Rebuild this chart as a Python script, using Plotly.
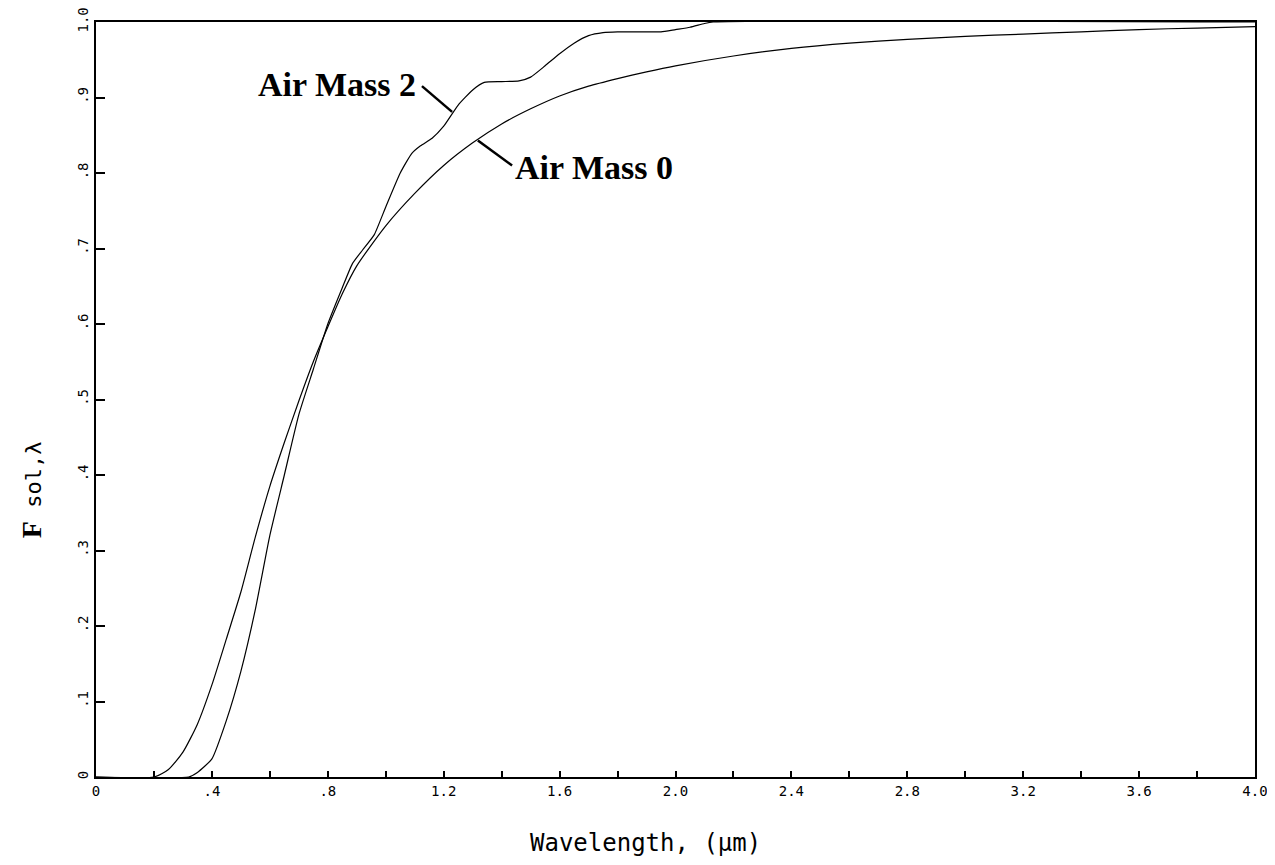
import plotly.graph_objects as go

# Air Mass 0 cumulative solar fraction
am0_wavelength = [0, 0.2, 0.25, 0.3, 0.35, 0.4, 0.45, 0.5, 0.55, 0.6, 0.65, 0.7, 0.75, 0.8,
                  0.85, 0.9, 1.0, 1.1, 1.2, 1.3, 1.4, 1.5, 1.6, 1.7, 1.8, 1.9, 2.0, 2.2,
                  2.4, 2.6, 2.8, 3.0, 3.2, 3.4, 3.6, 3.8, 4.0]
am0_fraction = [0, 0, 0.01, 0.033, 0.07, 0.122, 0.183, 0.245, 0.318, 0.385, 0.443, 0.498,
                0.55, 0.596, 0.64, 0.677, 0.73, 0.773, 0.81, 0.84, 0.865, 0.885, 0.902,
                0.915, 0.925, 0.934, 0.942, 0.955, 0.965, 0.972, 0.977, 0.981, 0.984,
                0.987, 0.99, 0.992, 0.994]

# Air Mass 2 cumulative solar fraction
am2_wavelength = [0, 0.32, 0.35, 0.4, 0.45, 0.5, 0.55, 0.6, 0.65, 0.7, 0.75, 0.8, 0.85,
                  0.885, 0.92, 0.96, 1.0, 1.05, 1.09, 1.12, 1.16, 1.2, 1.25, 1.3, 1.34,
                  1.4, 1.46, 1.5, 1.55, 1.6, 1.65, 1.7, 1.75, 1.8, 1.9, 1.95, 2.0, 2.05,
                  2.1, 2.13, 4.0]
am2_fraction = [0, 0, 0.006, 0.024, 0.075, 0.14, 0.222, 0.32, 0.40, 0.48, 0.54, 0.6, 0.648,
                0.68, 0.698, 0.718, 0.755, 0.8, 0.826, 0.836, 0.846, 0.862, 0.89, 0.91,
                0.92, 0.921, 0.922, 0.927, 0.942, 0.958, 0.972, 0.982, 0.986, 0.987,
                0.987, 0.987, 0.99, 0.993, 0.998, 1.0, 1.0]

x_tickvals = [round(0.2 * i, 1) for i in range(21)]
x_ticktext = ["0", "", ".4", "", ".8", "", "1.2", "", "1.6", "", "2.0", "", "2.4", "",
              "2.8", "", "3.2", "", "3.6", "", "4.0"]
y_tickvals = [round(0.1 * i, 1) for i in range(11)]
y_ticktext = ["0", ".1", ".2", ".3", ".4", ".5", ".6", ".7", ".8", ".9", "1.0"]

fig = go.Figure()
fig.add_trace(go.Scatter(x=am0_wavelength, y=am0_fraction, mode="lines",
                         line=dict(color="black", width=1.2, shape="spline", smoothing=0.6),
                         name="Air Mass 0", showlegend=False))
fig.add_trace(go.Scatter(x=am2_wavelength, y=am2_fraction, mode="lines",
                         line=dict(color="black", width=1.2, shape="spline", smoothing=0.5),
                         name="Air Mass 2", showlegend=False))

label_font = dict(family="Liberation Serif", size=34, color="black")

# leader lines
fig.add_shape(type="line", x0=1.125, y0=0.915, x1=1.229, y1=0.881,
              line=dict(color="black", width=2.5))
fig.add_shape(type="line", x0=1.318, y0=0.843, x1=1.436, y1=0.810,
              line=dict(color="black", width=2.5))

fig.add_annotation(x=1.11, y=0.917, text="<b>Air Mass 2</b>", showarrow=False,
                   xanchor="right", yanchor="middle", font=label_font)
fig.add_annotation(x=1.44, y=0.807, text="<b>Air Mass 0</b>", showarrow=False,
                   xanchor="left", yanchor="middle", font=label_font)

# axis titles
fig.add_annotation(xref="paper", yref="paper", x=0.474, y=-0.087,
                   text="Wavelength, (μm)", showarrow=False,
                   xanchor="center", yanchor="middle",
                   font=dict(family="DejaVu Sans Mono", size=24, color="black"))
fig.add_annotation(xref="paper", yref="paper", x=-0.056, y=0.38,
                   text="<span style='font-family:Liberation Serif;font-size:28px'><b>F</b></span> sol,λ",
                   showarrow=False, textangle=-90,
                   xanchor="center", yanchor="middle",
                   font=dict(family="DejaVu Sans Mono", size=22, color="black"))

tick_font = dict(family="DejaVu Sans Mono", size=14, color="black")

fig.update_layout(
    width=1275, height=865,
    margin=dict(l=88, r=28, t=14, b=96, autoexpand=False),
    paper_bgcolor="white", plot_bgcolor="white",
    xaxis=dict(range=[0, 4], tickmode="array", tickvals=x_tickvals, ticktext=x_ticktext,
               ticks="inside", ticklen=6, tickwidth=1.5, tickcolor="black",
               showline=True, mirror=True, linecolor="black", linewidth=2,
               showgrid=False, zeroline=False, tickfont=tick_font, automargin=False,
               ticklabeloverflow="allow"),
    yaxis=dict(range=[0, 1], tickmode="array", tickvals=y_tickvals, ticktext=y_ticktext,
               tickangle=-90, ticks="inside", ticklen=9, tickwidth=1.5, tickcolor="black",
               showline=True, mirror=True, linecolor="black", linewidth=2,
               showgrid=False, zeroline=False, tickfont=tick_font, automargin=False,
               ticklabeloverflow="allow"),
)

fig.write_html("out.html")
